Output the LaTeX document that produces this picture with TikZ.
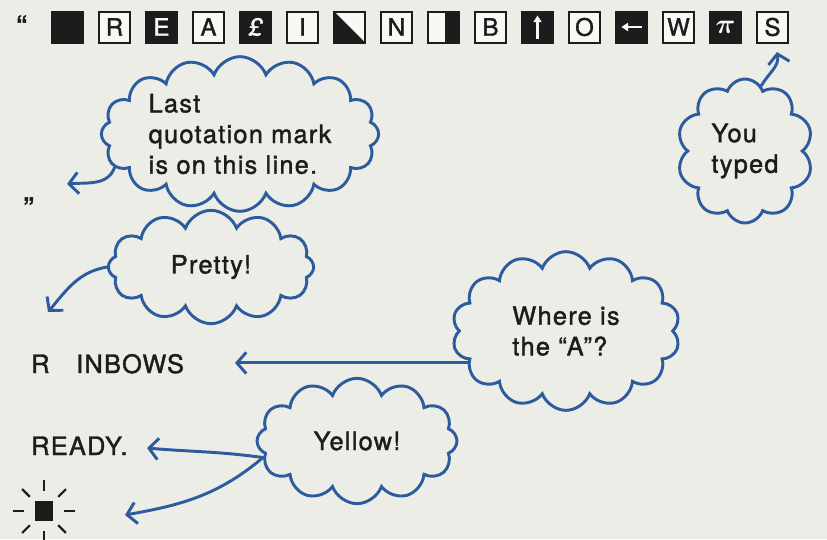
\documentclass[tikz,border=0pt]{standalone}
\usepackage{amsmath}
\usepackage{fontspec}
\setmainfont{TeX Gyre Heros}[LetterSpace=5, RawFeature={embolden=1.5}]
\usetikzlibrary{arrows.meta, positioning, shapes.symbols}
\definecolor{papercolor}{HTML}{EDEDE7}
\definecolor{capwhite}{HTML}{F8F8F5}
\definecolor{cloudblue}{HTML}{2D5C9E}
\definecolor{inkcolor}{HTML}{1C1C1C}

\begin{document}
\begin{tikzpicture}[
    x=0.75pt, y=-0.75pt,
    >={Straight Barb[length=7pt,width=16pt]},
    font=\fontsize{19}{23}\selectfont,
    keycap/.style={draw=inkcolor, fill=capwhite, text=inkcolor, line width=1.5pt,
        minimum size=23.25pt, inner sep=0pt, outer sep=0pt, font=\fontsize{18}{18}\selectfont},
    keycapdark/.style={keycap, fill=inkcolor, text=capwhite},
    bubble/.style={cloud, cloud puffs=#1, cloud puff arc=140, cloud ignores aspect,
        draw=cloudblue, line width=2.2pt, text=inkcolor, align=left, inner sep=0pt},
    callout/.style={->, draw=cloudblue, line width=2.2pt, line cap=round},
    screen/.style={text=inkcolor, inner sep=0pt}
]

    % Page
    \useasboundingbox (0,0) rectangle (827,539);
    \fill[papercolor] (0,0) rectangle (827,539);

    % Row of keys
    \node[screen, anchor=base west, font=\fontsize{24}{24}\selectfont] (qopen) at (16,38) {“};
    \node[keycapdark] (kblank) at (67.5,27) {};
    \node[keycap, right=12pt of kblank] (kr) {R};
    \node[keycapdark, right=12pt of kr] (ke) {E};
    \node[keycap, right=12pt of ke] (ka) {A};
    \node[keycapdark, right=12pt of ka] (kpound) {\itshape £};
    \node[keycap, right=12pt of kpound] (ki) {I};
    \node[keycap, right=12pt of ki, path picture={
        \fill[inkcolor] (path picture bounding box.north west) -- (path picture bounding box.south west)
            -- (path picture bounding box.south east) -- cycle;}] (kdiag) {};
    \node[keycap, right=12pt of kdiag] (kn) {N};
    \node[keycap, right=12pt of kn, path picture={
        \fill[inkcolor] ([xshift=1pt]path picture bounding box.north) rectangle (path picture bounding box.south east);}] (khalf) {};
    \node[keycap, right=12pt of khalf] (kb) {B};
    \node[keycapdark, right=12pt of kb, path picture={
        \draw[capwhite, line width=2pt, -{Triangle[length=5pt,width=6pt]}]
            ([yshift=3pt]path picture bounding box.south) -- ([yshift=-3pt]path picture bounding box.north);}] (kup) {};
    \node[keycap, right=12pt of kup] (ko) {O};
    \node[keycapdark, right=12pt of ko, path picture={
        \draw[capwhite, line width=2pt, -{Triangle[length=5pt,width=6pt]}]
            ([xshift=-4pt]path picture bounding box.east) -- ([xshift=4pt]path picture bounding box.west);}] (kleft) {};
    \node[keycap, right=12pt of kleft] (kw) {W};
    \node[keycapdark, right=12pt of kw, font=\fontsize{22}{22}\selectfont] (kpi) {$\boldsymbol{\pi}$};
    \node[keycap, right=12pt of kpi] (ks) {S};

    % Screen lines
    \node[screen, anchor=base west, font=\fontsize{24}{24}\selectfont] (qclose) at (23,220) {”};
    \node[screen, anchor=base west] (rbows) at (31,373) {R\hspace{20pt}INBOWS};
    \node[screen, anchor=base west] (ready) at (31,455) {READY.};
    \node[fill=inkcolor, minimum width=13.5pt, minimum height=15pt, inner sep=0pt] (cursor) at (44,511) {};
    \foreach \a in {0,45,...,315}
        \draw[inkcolor, line width=1.6pt] (cursor.center) ++(\a:20) -- ++(\a:11);

    % Clouds
    \node[bubble=16, minimum width=208pt, minimum height=116pt] (last) at (240,134)
        {Last\\quotation mark\\is on this line.};
    \node[bubble=12, minimum width=154pt, minimum height=85pt] (pretty) at (211,267) {Pretty!};
    \node[bubble=14, minimum width=171pt, minimum height=119pt] (where) at (566,331)
        {Where is\\the “A”?};
    \node[bubble=12, minimum width=150pt, minimum height=94pt] (yellow) at (357,441) {Yellow!};
    \node[bubble=10, minimum width=102pt, minimum height=108pt] (typed) at (745,151) {You\\typed};

    % Callout arrows
    \coordinate (lasttip) at (67,184);
    \coordinate (prettytip) at (48,312);
    \coordinate (rbowtip) at (235,363);
    \coordinate (readytip) at (147,448);
    \coordinate (cursortip) at (125,515);
    \coordinate (stip) at (777,52);
    \draw[callout] (last.195) to[out=-110, in=5] (lasttip);
    \draw[callout] (pretty.180) to[out=190, in=50] (prettytip);
    \draw[callout] (where.198) -- (where.198 -| rbowtip);
    \draw[callout] (yellow.190) to[out=172, in=-5] (readytip);
    \draw[callout] (yellow.190) to[out=220, in=10] (cursortip);
    \draw[callout] (typed.76) to[out=60, in=-80] (stip);

\end{tikzpicture}
\end{document}
